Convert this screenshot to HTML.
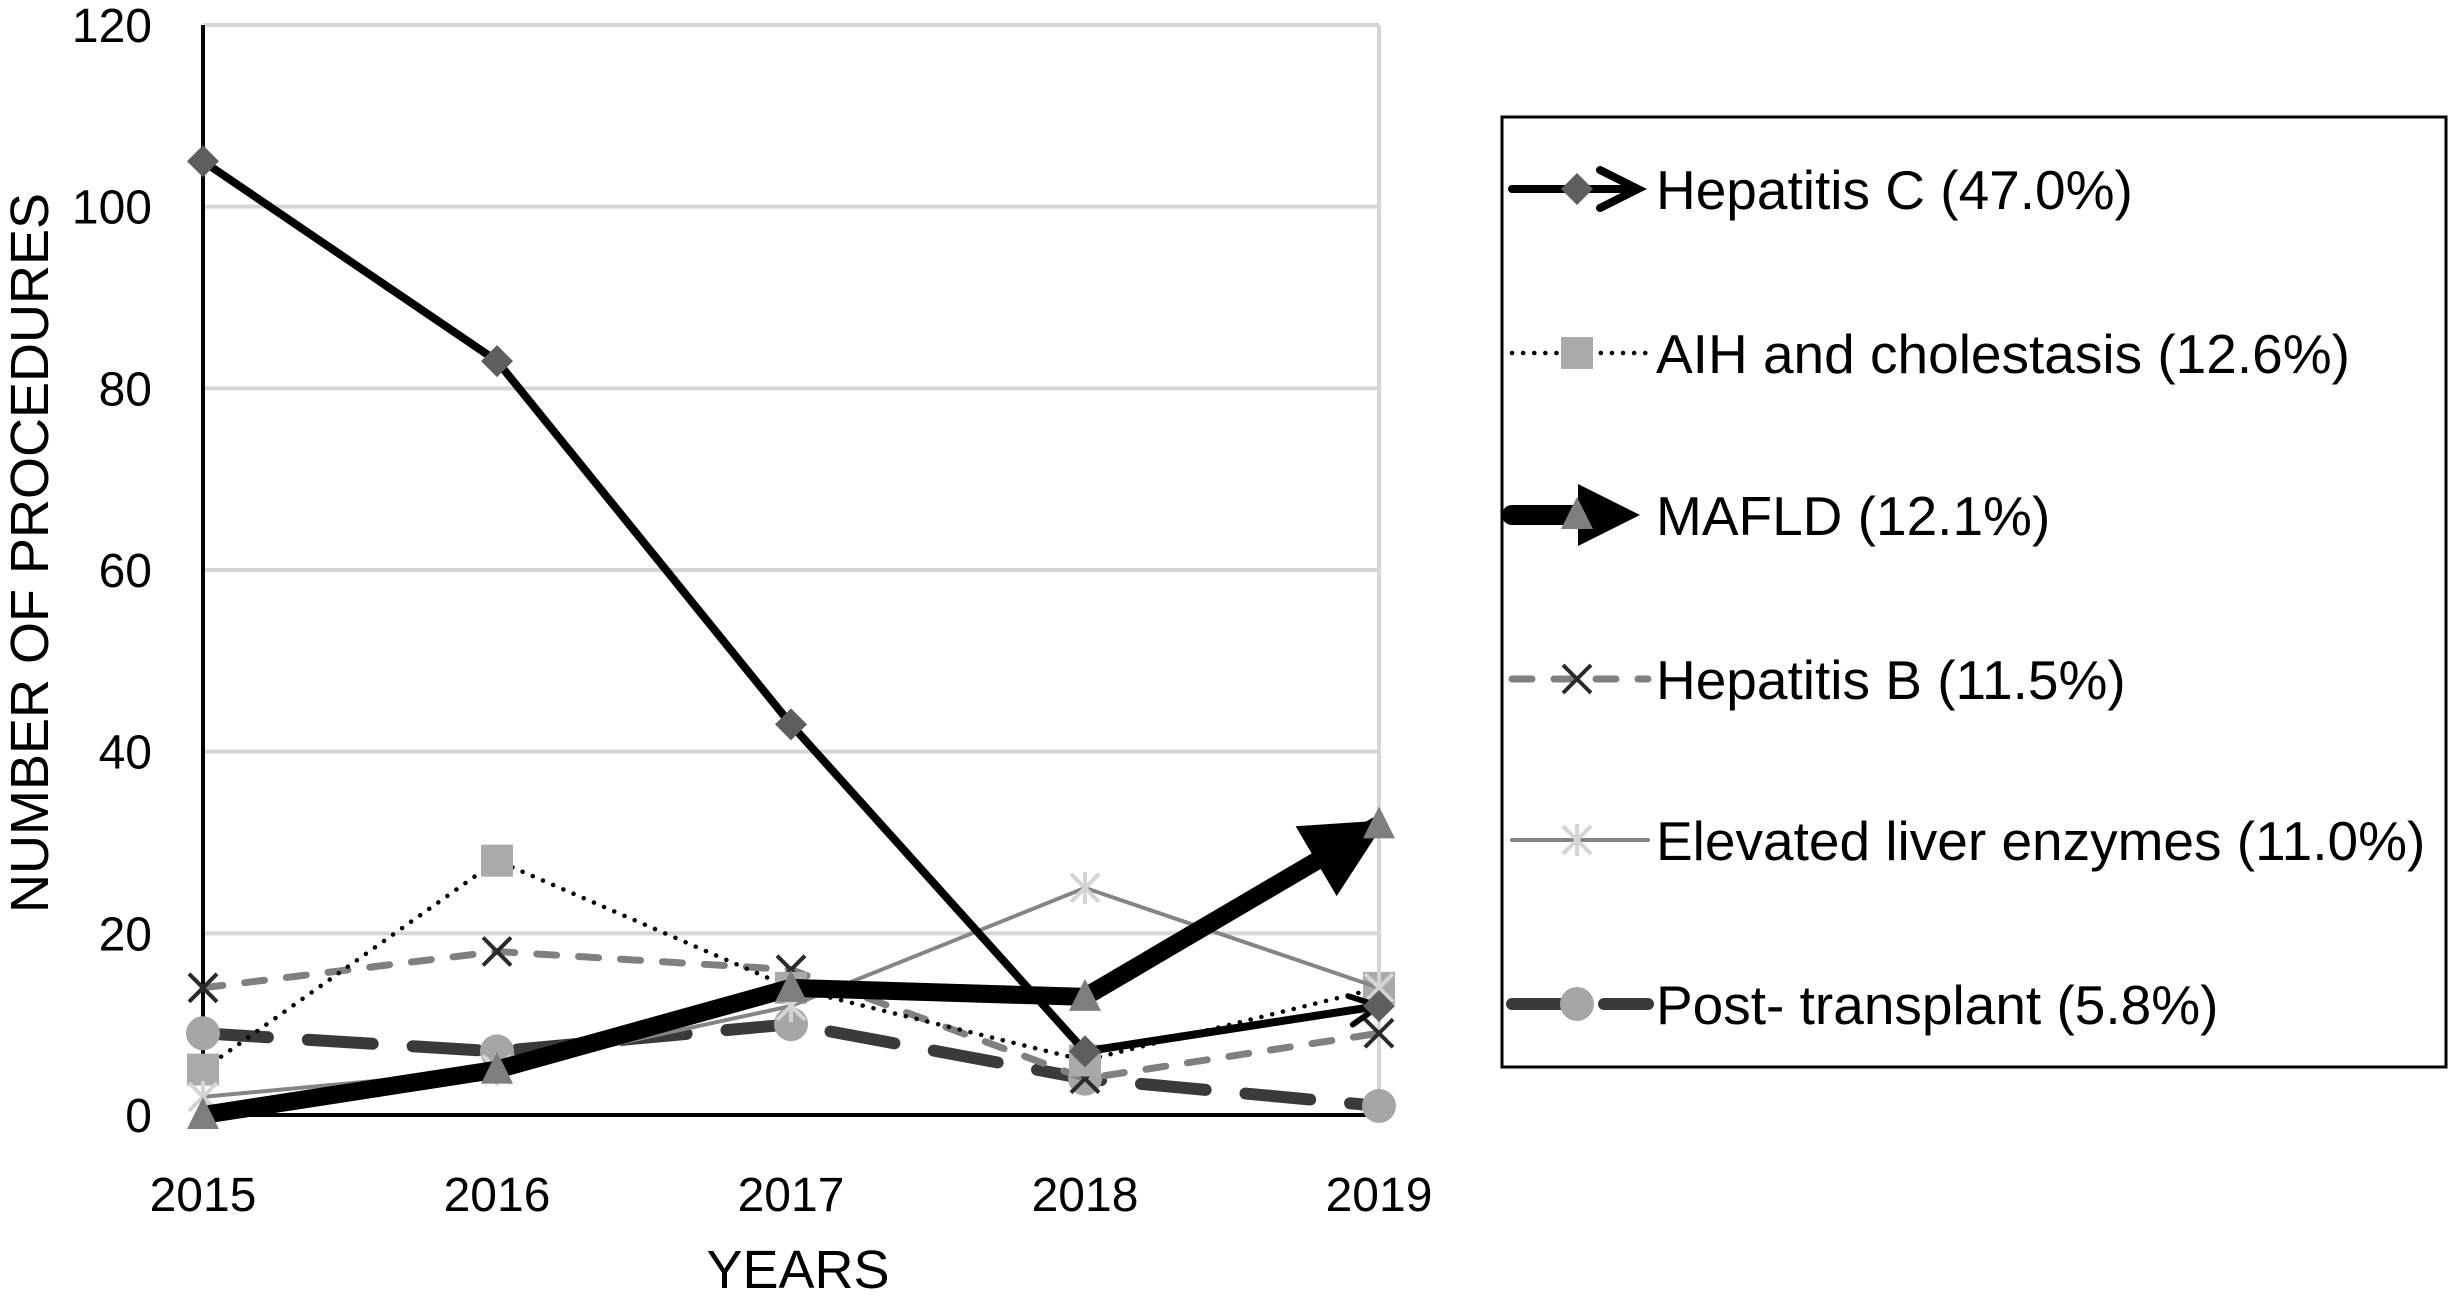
<!DOCTYPE html>
<html><head><meta charset="utf-8"><style>
html,body{margin:0;padding:0;background:#fff;}
svg{display:block;font-family:"Liberation Sans",Arial,sans-serif;}
</style></head><body>
<svg id="chart" width="2449" height="1315" viewBox="0 0 2449 1315" xmlns="http://www.w3.org/2000/svg">
<defs>
<marker id="arrOpen" viewBox="0 0 10 10" refX="9" refY="5" markerWidth="4.5" markerHeight="4.5" orient="auto" markerUnits="strokeWidth"><path d="M1,1 L9,5 L1,9" fill="none" stroke="#000" stroke-width="1.6" stroke-linecap="round"/></marker>
<marker id="arrSolid" viewBox="0 0 10 10" refX="9" refY="5" markerWidth="4.5" markerHeight="4.5" orient="auto" markerUnits="strokeWidth"><path d="M0,0 L10,5 L0,10 z" fill="#000"/></marker>
</defs>
<g id="grid"></g>
<g id="axes"></g>
<g id="series"></g>
<text x="798" y="1288" font-size="54" text-anchor="middle">YEARS</text>
<text x="0" y="0" font-size="54" text-anchor="middle" transform="translate(48,553) rotate(-90)">NUMBER OF PROCEDURES</text>
<rect x="1502" y="117" width="944" height="950" fill="none" stroke="#000" stroke-width="3"/>
<g id="legend"></g>
</svg>
<script>
const years = ["2015","2016","2017","2018","2019"];
const yTicks = [0,20,40,60,80,100,120];
const hepC = [105,83,43,7,12];
const aih = [5,28,14,6,14];
const mafld = [0,5,14,13,32];
const hepB = [14,18,16,4,9];
const elevated = [2,5,12,25,14];
const postTx = [9,7,10,4,1];
const legendLabels = ["Hepatitis C (47.0%)","AIH and cholestasis (12.6%)","MAFLD (12.1%)","Hepatitis B (11.5%)","Elevated liver enzymes (11.0%)","Post- transplant (5.8%)"];

const NS="http://www.w3.org/2000/svg";
const X0=203,X1=1379,Y0=1115,Y1=25;
function xs(i){return X0+(X1-X0)*i/(years.length-1);}
function ys(v){return Y0-(Y0-Y1)*v/120;}
function mk(tag,attrs,parent){const e=document.createElementNS(NS,tag);for(const k in attrs)e.setAttribute(k,attrs[k]);parent.appendChild(e);return e;}
const grid=document.getElementById('grid'),axes=document.getElementById('axes'),ser=document.getElementById('series'),leg=document.getElementById('legend');

yTicks.forEach(t=>{
  if(t>0){const l=mk('line',{x1:X0,x2:X1,y1:ys(t),y2:ys(t),stroke:'#d6d6d6','stroke-width':4},grid);
  
  }
  const tx=mk('text',{x:152,y:ys(t)+17,'font-size':48,'text-anchor':'end'},axes);tx.textContent=t;
  
  
});
const vr=mk('line',{x1:X1,x2:X1,y1:Y1,y2:Y0,stroke:'#d6d6d6','stroke-width':4},grid);


years.forEach((y,i)=>{const tx=mk('text',{x:xs(i),y:1211,'font-size':48,'text-anchor':'middle'},axes);tx.textContent=y;
  
  });
const ya=mk('line',{x1:X0,x2:X0,y1:Y1,y2:Y0+2,stroke:'#000','stroke-width':4},axes);


const xa=mk('line',{x1:X0,x2:X1,y1:Y0,y2:Y0,stroke:'#000','stroke-width':4},axes);



function marker(type,cx,cy,g){
  const s=16;let e;
  if(type==='diamond') e=mk('path',{d:`M${cx},${cy-s}L${cx+s},${cy}L${cx},${cy+s}L${cx-s},${cy}z`,fill:'#5e5e5e'},g);
  else if(type==='square') e=mk('rect',{x:cx-s,y:cy-s,width:2*s,height:2*s,fill:'#aaa'},g);
  else if(type==='triangle') e=mk('path',{d:`M${cx},${cy-s-2}L${cx+s},${cy+s-2}L${cx-s},${cy+s-2}z`,fill:'#7e7e7e'},g);
  else if(type==='x') e=mk('path',{d:`M${cx-14},${cy-14}L${cx+14},${cy+14}M${cx+14},${cy-14}L${cx-14},${cy+14}`,stroke:'#2a2a2a','stroke-width':4,fill:'none'},g);
  else if(type==='star') e=mk('path',{d:`M${cx-14},${cy-14}L${cx+14},${cy+14}M${cx+14},${cy-14}L${cx-14},${cy+14}M${cx},${cy-16}L${cx},${cy+16}`,stroke:'#d4d4d4','stroke-width':4,fill:'none'},g);
  else if(type==='circle') e=mk('circle',{cx:cx,cy:cy,r:17,fill:'#a6a6a6'},g);
  return e;
}
const defs=[
 {key:'hepatitis-c',data:hepC,stroke:'#000',w:8,dash:'',arrow:'arrOpen',m:'diamond'},
 {key:'aih-cholestasis',data:aih,stroke:'#000',w:4.5,dash:'0.1 11',cap:'round',m:'square'},
 {key:'mafld',data:mafld,stroke:'#000',w:18,dash:'',arrow:'arrSolid',m:'triangle'},
 {key:'hepatitis-b',data:hepB,stroke:'#808080',w:7,dash:'20 22',cap:'round',m:'x'},
 {key:'elevated-liver-enzymes',data:elevated,stroke:'#858585',w:4,dash:'',m:'star'},
 {key:'post-transplant',data:postTx,stroke:'#3a3a3a',w:12,dash:'65 40',cap:'round',m:'circle'}
];
const order=[5,3,1,4,2,0];
order.forEach(k=>{
  const d=defs[k];
  const g=mk('g',{},ser);
  
  
  const pts=d.data.map((v,i)=>xs(i)+','+ys(v)).join(' ');
  const attrs={points:pts,fill:'none',stroke:d.stroke,'stroke-width':d.w,'stroke-linejoin':'round','stroke-linecap':d.cap||'butt'};
  if(d.dash)attrs['stroke-dasharray']=d.dash;
  if(d.arrow)attrs['marker-end']='url(#'+d.arrow+')';
  const pl=mk('polyline',attrs,g);
  
  
  d.data.forEach((v,i)=>{const e=marker(d.m,xs(i),ys(v),g);
    
    });
});
const rowsY=[189,353,515,679,840,1004];
defs.forEach((d,i)=>{
  const y=rowsY[i];
  const g=mk('g',{},leg);
  
  
  if(d.key==='hepatitis-c'){
    mk('line',{x1:1512,x2:1636,y1:y,y2:y,stroke:'#000','stroke-width':8,'stroke-linecap':'round'},g);
    mk('path',{d:`M1600,${y-19}L1638,${y}L1600,${y+19}`,fill:'none',stroke:'#000','stroke-width':8,'stroke-linecap':'round','stroke-linejoin':'miter'},g);
    marker(d.m,1577,y,g);
  } else if(d.key==='mafld'){
    mk('line',{x1:1512,x2:1590,y1:y,y2:y,stroke:'#000','stroke-width':20,'stroke-linecap':'round'},g);
    mk('path',{d:`M1578,${y-31}L1640,${y}L1578,${y+31}z`,fill:'#000'},g);
    marker(d.m,1577,y,g);
  } else {
    const attrs={x1:1512,x2:1648,y1:y,y2:y,stroke:d.stroke,'stroke-width':d.w,'stroke-linecap':d.cap||'round'};
    if(d.dash)attrs['stroke-dasharray']=d.key==='post-transplant'?'50 42':(d.key==='hepatitis-b'?'20 22':d.dash);
    mk('line',attrs,g);
    marker(d.m,1577,y,g);
  }
  const t=mk('text',{x:1656,y:y+20,'font-size':55},g);t.textContent=legendLabels[i];
});
</script>
</body></html>
